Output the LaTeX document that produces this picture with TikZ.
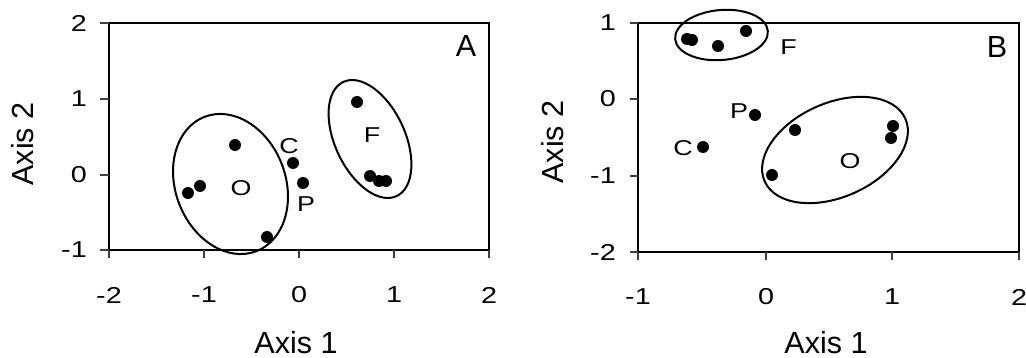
\documentclass[tikz,border=0pt]{standalone}
\usepackage{graphicx}
\usepackage{fontspec}
\setmainfont{Liberation Sans}
\newcommand{\wideTxt}[1]{\scalebox{1.25}[1]{#1}}
\begin{document}
\begin{tikzpicture}[x=1pt,y=-1pt,
  frame/.style={line width=2.3pt},
  tickmark/.style={line width=1.2pt, black!75},
  ticklab/.style={font=\fontsize{23}{23}\selectfont, inner sep=0pt},
  axlab/.style={font=\fontsize{30.5}{30.5}\selectfont, inner sep=0pt},
  ptlab/.style={font=\fontsize{21.5}{21.5}\selectfont, inner sep=0pt},
  dot/.style={circle, fill=black, inner sep=0pt, minimum size=12pt},
  hull/.style={line width=2pt}]
\useasboundingbox (0,0) rectangle (1026,358);

% ---------------- Panel A ----------------
\draw[frame] (109,23) rectangle (489,250);
\foreach \y/\l [count=\i] in {23/2, 99/1, 175/0, 250/-1}{
  \draw[tickmark] (100,\y) -- (109,\y);
  \node[ticklab, anchor=east] (yA\i) at (87,\y) {\wideTxt{\l}};
}
\foreach \x/\l [count=\i] in {109/-2, 204/-1, 299/0, 394/1, 489/2}{
  \draw[tickmark] (\x,250) -- (\x,258);
  \node[ticklab] (xA\i) at (\x,295) {\wideTxt{\l}};
}
\node[axlab] (ax1A) at (296,342.5) {Axis 1};
\node[axlab, rotate=90] (ax2A) at (22.5,144) {Axis 2};
\node[axlab] (panA) at (466,46.5) {A};

\draw[hull, rotate around={21:(230.5,184)}] (230.5,184) ellipse [x radius=55pt, y radius=72pt];
\draw[hull, rotate around={25:(370,139)}] (370,139) ellipse [x radius=35pt, y radius=63pt];

\node[dot] (a1) at (235,145) {};
\node[dot] (a2) at (200,186) {};
\node[dot] (a3) at (188,193) {};
\node[dot] (a4) at (267,237) {};
\node[dot] (aC) at (293,163) {};
\node[dot] (aP) at (303,183) {};
\node[dot] (a5) at (357,102) {};
\node[dot] (a6) at (370,176) {};
\node[dot] (a7) at (379,181) {};
\node[dot] (a8) at (386,181) {};

\node[ptlab] (lCA) at (289,146) {\wideTxt{C}};
\node[ptlab] (lPA) at (306,204) {\wideTxt{P}};
\node[ptlab] (lOA) at (241,188) {\wideTxt{O}};
\node[ptlab] (lFA) at (372,135) {\wideTxt{F}};

% ---------------- Panel B ----------------
\draw[frame] (638,23) rectangle (1019,252);
\foreach \y/\l [count=\i] in {23/1, 99/0, 176/-1, 252/-2}{
  \draw[tickmark] (630,\y) -- (638,\y);
  \node[ticklab, anchor=east] (yB\i) at (616,\y) {\wideTxt{\l}};
}
\foreach \x/\l [count=\i] in {638/-1, 766/0, 892/1, 1019/2}{
  \draw[tickmark] (\x,252) -- (\x,260);
  \node[ticklab] (xB\i) at (\x,297) {\wideTxt{\l}};
}
\node[axlab] (ax1B) at (826,342.5) {Axis 1};
\node[axlab, rotate=90] (ax2B) at (552.5,142) {Axis 2};
\node[axlab] (panB) at (997,47) {B};

\draw[hull, rotate around={5:(721.5,35)}] (721.5,35) ellipse [x radius=46.5pt, y radius=25pt];
\draw[hull, rotate around={24:(835,150)}] (835,150) ellipse [x radius=77pt, y radius=47pt];

\node[dot] (b1) at (687,39) {};
\node[dot] (b2) at (692,40) {};
\node[dot] (b3) at (718,46) {};
\node[dot] (b4) at (746,31) {};
\node[dot] (bP) at (755,115) {};
\node[dot] (bC) at (703,147) {};
\node[dot] (b5) at (795,130) {};
\node[dot] (b6) at (893,126) {};
\node[dot] (b7) at (891,138) {};
\node[dot] (b8) at (772,175) {};

\node[ptlab] (lFB) at (788.5,47.5) {\wideTxt{F}};
\node[ptlab] (lPB) at (739,111) {\wideTxt{P}};
\node[ptlab] (lCB) at (683,148) {\wideTxt{C}};
\node[ptlab] (lOB) at (850,161.5) {\wideTxt{O}};
\end{tikzpicture}
\end{document}
